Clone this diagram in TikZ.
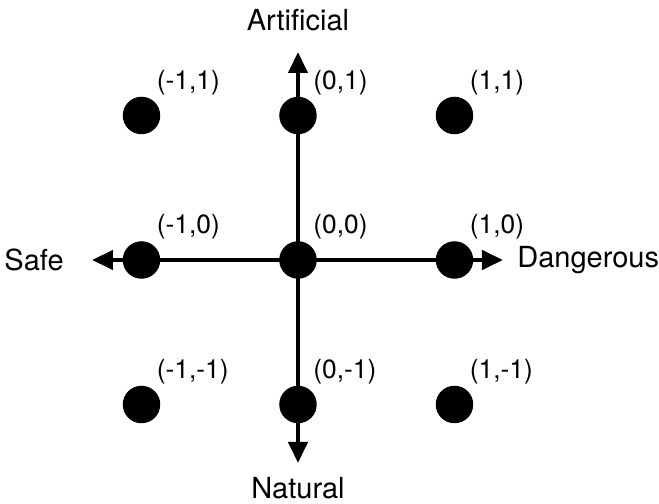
\documentclass[tikz,border=0pt]{standalone}
\usepackage{fontspec}
\setmainfont{TeX Gyre Heros}
\usetikzlibrary{arrows.meta,positioning}

\begin{document}
\begin{tikzpicture}[
		x=3.13cm, y=2.89cm,
		dot/.style={circle, fill=black, minimum size=0.75cm, inner sep=0},
		coord/.style={font=\fontsize{15}{18}\selectfont, inner sep=0, anchor=base west},
		axislabel/.style={font=\fontsize{16.5}{19}\selectfont, inner sep=0},
		axis/.style={{Triangle[length=0.42cm,width=0.38cm]}-{Triangle[length=0.42cm,width=0.38cm]}, line width=2.4pt}
		]
		
		\useasboundingbox (-5.96cm,-4.88cm) rectangle (7.22cm,5.2cm);
		
		% the nine points
		\foreach \i/\a in {-1/l,0/c,1/r}
			\foreach \j/\b in {-1/b,0/m,1/t} {
				\node[dot] (n\a\b) at (\i,\j) {};
				\node[coord] (lbl\a\b) at ([shift={(0.3cm,0.52cm)}]n\a\b.center) {(\i,\j)};
			}
		
		% axis ends
		\coordinate (artend) at ([yshift=4.16cm]ncm.center);
		\coordinate (natend) at ([yshift=-4.06cm]ncm.center);
		\coordinate (safeend) at ([xshift=-4.12cm]ncm.center);
		\coordinate (dangerend) at ([xshift=4.1cm]ncm.center);
		
		\draw[axis] (natend) -- (artend);
		\draw[axis] (safeend) -- (dangerend);
		
		\node[axislabel, above=0.42cm of artend] (artificial) {Artificial};
		\node[axislabel, below=0.28cm of natend] (natural) {Natural};
		\node[axislabel, left=0.56cm of safeend] (safe) {Safe};
		\node[axislabel, right=0.28cm of dangerend] (dangerous) {Dangerous};
		
	\end{tikzpicture}
\end{document}
